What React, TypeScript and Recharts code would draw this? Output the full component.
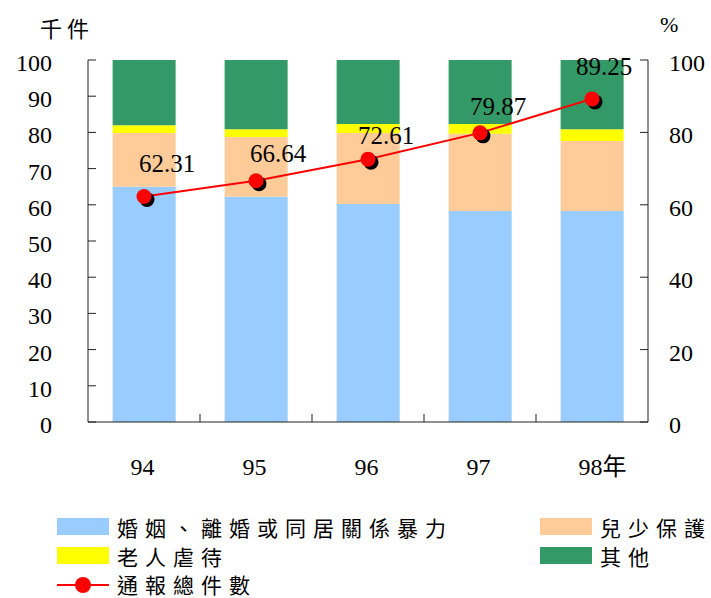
import React from "react";
import { ComposedChart, Bar, Line, XAxis, YAxis, LabelList } from "recharts";

const years = ["94", "95", "96", "97", "98年"];
const marital = [65.0, 62.2, 60.2, 58.3, 58.3];
const child = [14.8, 16.5, 19.6, 21.3, 19.3];
const elder = [2.2, 2.2, 2.5, 2.7, 3.3];
const other = [18.0, 19.1, 17.7, 17.7, 19.1];
const totals = [62.31, 66.64, 72.61, 79.87, 89.25];
const leftTicks = [0, 10, 20, 30, 40, 50, 60, 70, 80, 90, 100];
const rightTicks = [0, 20, 40, 60, 80, 100];

const data = years.map((year, i) => ({
  year,
  marital: marital[i],
  child: child[i],
  elder: elder[i],
  other: other[i],
  total: totals[i],
}));

const FONT = '"Liberation Serif", "DejaVu Serif", "Times New Roman", "Noto Sans CJK TC", serif';
const CJK = '"Noto Sans CJK TC", "Noto Sans CJK JP", sans-serif';
const PLOT_LEFT = 88;
const PLOT_RIGHT = 648;
const BAND = (PLOT_RIGHT - PLOT_LEFT) / years.length;

// label nudges (dx, dy from the point to text centre)
const LABEL_SHIFT = [
  [23, -33],
  [22, -28],
  [18, -24],
  [18, -27],
  [12, -33],
];

const numStyle: React.CSSProperties = { fontFamily: FONT, fontSize: 24 };

function LeftTick({ x, y, payload }: any) {
  return (
    <g>
      <line x1={x} x2={x + 8} y1={y} y2={y} stroke="#222" />
      <text x={x - 36} y={y + 11} textAnchor="end" style={numStyle} fill="#000">
        {payload.value}
      </text>
    </g>
  );
}

function RightTick({ x, y, payload }: any) {
  return (
    <g>
      <line x1={x - 8} x2={x} y1={y} y2={y} stroke="#222" />
      <text x={x + 21} y={y + 11} textAnchor="start" style={numStyle} fill="#000">
        {payload.value}
      </text>
    </g>
  );
}

function YearTick({ x, y, payload, index }: any) {
  const label = String(payload.value);
  const digits = label.replace(/[^0-9]/g, "").length;
  return (
    <g>
      {index < years.length - 1 && (
        <line x1={x + BAND / 2} x2={x + BAND / 2} y1={y} y2={y - 8} stroke="#222" />
      )}
      <text x={x - digits * 6.7} y={y + 53} textAnchor="start" style={numStyle} fill="#000">
        {label}
      </text>
    </g>
  );
}

function ShadowDot({ cx, cy }: any) {
  if (cx == null || cy == null) return null;
  return (
    <g>
      <circle cx={cx + 3} cy={cy + 3} r={7.5} fill="#000" />
      <circle cx={cx} cy={cy} r={7.5} fill="#ff0000" />
    </g>
  );
}

function PointLabel({ x, y, value, index }: any) {
  const [dx, dy] = LABEL_SHIFT[index] || [15, -28];
  return (
    <text x={x + dx} y={y + dy + 9} textAnchor="middle" style={{ ...numStyle, fontSize: 25 }} fill="#000">
      {Number(value).toFixed(2)}
    </text>
  );
}

const legendItems = [
  { name: "婚姻、離婚或同居關係暴力", color: "#99ccff", left: 57, top: 527 },
  { name: "兒少保護", color: "#ffcc99", left: 540, top: 527 },
  { name: "老人虐待", color: "#ffff00", left: 57, top: 556 },
  { name: "其他", color: "#339966", left: 540, top: 556 },
];

function LegendBox() {
  const text: React.CSSProperties = {
    position: "absolute",
    fontFamily: CJK,
    fontSize: 21,
    lineHeight: "22px",
    letterSpacing: 7,
    color: "#000",
    whiteSpace: "nowrap",
  };
  return (
    <>
      {legendItems.map((it) => (
        <React.Fragment key={it.name}>
          <div
            style={{
              position: "absolute",
              left: it.left,
              top: it.top - 9,
              width: 52,
              height: 17,
              background: it.color,
            }}
          />
          <div style={{ ...text, left: it.left + 60, top: it.top - 11 }}>{it.name}</div>
        </React.Fragment>
      ))}
      <svg style={{ position: "absolute", left: 57, top: 575 }} width={52} height={20}>
        <line x1={0} x2={52} y1={10} y2={10} stroke="#ff0000" strokeWidth={2} />
        <circle cx={26} cy={10} r={8} fill="#ff0000" />
      </svg>
      <div style={{ ...text, left: 117, top: 573 }}>通報總件數</div>
    </>
  );
}

export default function App() {
  return (
    <div
      style={{
        position: "absolute",
        left: 0,
        top: 0,
        width: 711,
        height: 598,
        background: "#fff",
        overflow: "hidden",
      }}
    >
      <div
        style={{
          position: "absolute",
          left: 40,
          top: 15,
          fontFamily: CJK,
          fontSize: 22,
          lineHeight: "24px",
          letterSpacing: 5,
        }}
      >
        千件
      </div>
      <div
        style={{
          position: "absolute",
          left: 660,
          top: 12,
          fontFamily: FONT,
          fontSize: 22,
          lineHeight: "26px",
        }}
      >
        %
      </div>
      <ComposedChart
        width={711}
        height={500}
        data={data}
        margin={{ top: 60, right: 0, bottom: 20, left: 0 }}
        barCategoryGap="22%"
      >
        <XAxis
          dataKey="year"
          height={58}
          tickSize={0}
          tickMargin={0}
          tickLine={false}
          axisLine={{ stroke: "#222" }}
          tick={<YearTick />}
          interval={0}
        />
        <YAxis
          yAxisId="left"
          orientation="left"
          width={88}
          domain={[0, 100]}
          ticks={leftTicks}
          tickSize={0}
          tickMargin={0}
          tickLine={false}
          axisLine={{ stroke: "#222" }}
          tick={<LeftTick />}
          interval={0}
        />
        <YAxis
          yAxisId="right"
          orientation="right"
          width={63}
          domain={[0, 100]}
          ticks={rightTicks}
          tickSize={0}
          tickMargin={0}
          tickLine={false}
          axisLine={{ stroke: "#222" }}
          tick={<RightTick />}
          interval={0}
        />
        <Bar dataKey="marital" stackId="a" yAxisId="right" fill="#99ccff" isAnimationActive={false} />
        <Bar dataKey="child" stackId="a" yAxisId="right" fill="#ffcc99" isAnimationActive={false} />
        <Bar dataKey="elder" stackId="a" yAxisId="right" fill="#ffff00" isAnimationActive={false} />
        <Bar dataKey="other" stackId="a" yAxisId="right" fill="#339966" isAnimationActive={false} />
        <Line
          dataKey="total"
          yAxisId="left"
          type="linear"
          stroke="#ff0000"
          strokeWidth={2}
          dot={<ShadowDot />}
          activeDot={false}
          isAnimationActive={false}
        >
          <LabelList dataKey="total" content={<PointLabel />} />
        </Line>
      </ComposedChart>
      <LegendBox />
    </div>
  );
}
